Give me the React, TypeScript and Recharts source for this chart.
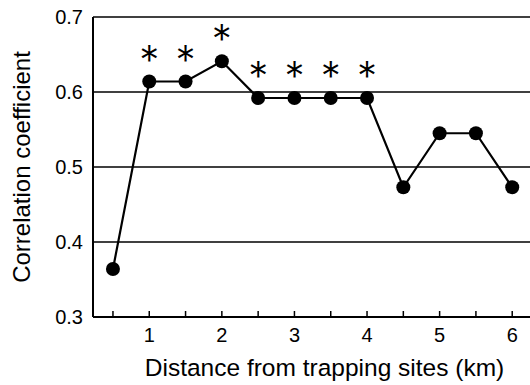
import React from 'react';
import { LineChart, Line, XAxis, YAxis, CartesianGrid, LabelList } from 'recharts';

const distances = [0.5, 1, 1.5, 2, 2.5, 3, 3.5, 4, 4.5, 5, 5.5, 6];
const coefficients = [0.364, 0.614, 0.614, 0.641, 0.592, 0.592, 0.592, 0.592, 0.473, 0.545, 0.545, 0.473];
const significant = [false, true, true, true, true, true, true, true, false, false, false, false];
const xTicks = [0.5, 1, 1.5, 2, 2.5, 3, 3.5, 4, 4.5, 5, 5.5, 6];
const yTicks = [0.3, 0.4, 0.5, 0.6, 0.7];
const xTitle = 'Distance from trapping sites (km)';
const yTitle = 'Correlation coefficient';

const data = distances.map((d, i) => ({ d, r: coefficients[i], star: significant[i] ? '*' : '' }));

const FONT = '"Liberation Sans", Arial, Helvetica, sans-serif';

const renderStar = (props: any) => {
  const { x, y, value } = props;
  if (!value) return null;
  return (
    <text x={x} y={y - 8} textAnchor="middle" fontSize={40} fontWeight={300} fontFamily='Inter, "DejaVu Sans", sans-serif' fill="#000">
      {value}
    </text>
  );
};

export default function App() {
  return (
    <div style={{ position: 'absolute', left: 0, top: 0, width: 530, height: 385, background: '#fff' }}>
      <LineChart width={530} height={385} data={data} margin={{ top: 17, right: 0, bottom: 0, left: 0 }}>
        <CartesianGrid horizontal vertical={false} stroke="#000" strokeWidth={1.5} />
        <XAxis
          type="number"
          dataKey="d"
          domain={[0.225, 6.245]}
          ticks={xTicks}
          tickFormatter={(v: number) => (Number.isInteger(v) ? String(v) : '')}
          height={68}
          axisLine={{ stroke: '#000', strokeWidth: 2 }}
          tickLine={{ stroke: '#000', strokeWidth: 1.5 }}
          tickSize={-6}
          tickMargin={16.8}
          tick={{ fill: '#000', fontSize: 20, fontFamily: FONT }}
          allowDataOverflow
          label={{
            content: (p: any) => {
              const vb = p.viewBox || { x: 93, y: 317, width: 437 };
              return (
                <text x={vb.x + vb.width / 2 + 13} y={vb.y + 59} textAnchor="middle" fontSize={24.5} fontFamily={FONT} fill="#000">
                  {xTitle}
                </text>
              );
            },
          }}
        />
        <YAxis
          type="number"
          domain={[0.3, 0.7]}
          ticks={yTicks}
          tickFormatter={(v: number) => v.toFixed(1)}
          width={93}
          axisLine={{ stroke: '#000', strokeWidth: 2 }}
          tickLine={false}
          tickSize={0}
          tickMargin={10}
          tick={{ fill: '#000', fontSize: 20, fontFamily: FONT }}
          allowDataOverflow
          label={{
            content: (p: any) => {
              const vb = p.viewBox || { x: 0, y: 17, height: 300 };
              const cx = vb.x + 30;
              const cy = vb.y + vb.height / 2;
              return (
                <text x={cx} y={cy} transform={`rotate(-90, ${cx}, ${cy})`} textAnchor="middle" fontSize={24} fontFamily={FONT} fill="#000">
                  {yTitle}
                </text>
              );
            },
          }}
        />
        <Line
          type="linear"
          dataKey="r"
          stroke="#000"
          strokeWidth={2.2}
          dot={{ r: 7, fill: '#000', stroke: '#000', strokeWidth: 0 }}
          activeDot={false}
          isAnimationActive={false}
        >
          <LabelList dataKey="star" content={renderStar} />
        </Line>
      </LineChart>
    </div>
  );
}
